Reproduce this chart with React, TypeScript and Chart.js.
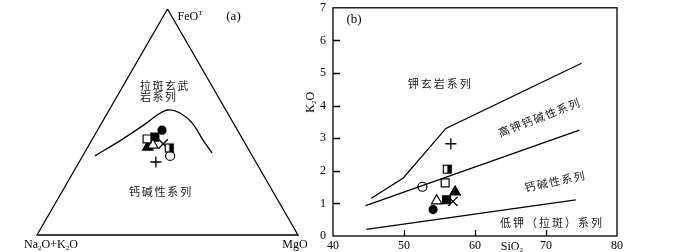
import React, { useEffect, useRef } from 'react';
import { Chart, registerables } from 'chart.js';
Chart.register(...registerables);

const SERIF = '"Liberation Serif", "Times New Roman", serif';
const CJK = '"Noto Sans CJK SC", sans-serif';

// ---------- Panel (b): K2O vs SiO2 ----------
const xTicksB = [40, 50, 60, 70, 80];
const yTicksB = [0, 1, 2, 3, 4, 5, 6, 7];
const xInnerTicksB = [50, 60, 70];
const yInnerTicksB = [1, 2, 3, 4, 5, 6];

// shoshonite / high-K calc-alkaline boundary
const shoSiO2 = [45.4, 49.9, 55.9, 75.0];
const shoK2O = [1.16, 1.78, 3.3, 5.3];
// high-K / calc-alkaline boundary
const hkSiO2 = [44.6, 74.7];
const hkK2O = [0.93, 3.25];
// calc-alkaline / low-K boundary
const lkSiO2 = [44.7, 74.2];
const lkK2O = [0.2, 1.11];

// samples (same order in both panels)
const sampleSiO2 = [54.1, 55.8, 56.1, 54.6, 52.6, 57.2, 56.0, 56.9, 56.6];
const sampleK2O = [0.81, 1.63, 2.05, 1.08, 1.51, 1.35, 1.11, 1.06, 2.83];

// ---------- Panel (a): AFM ternary (percent) ----------
const sampleF = [46.4, 42.5, 38.5, 39.8, 35.0, 38.9, 43.3, 40.3, 32.3];
const sampleA = [28.9, 36.6, 30.1, 35.7, 31.5, 38.1, 33.2, 31.5, 38.3];
const sampleM = [24.7, 20.9, 31.4, 24.5, 33.5, 23.0, 23.5, 28.2, 29.4];

const curveF = [35.0, 42.0, 49.6, 53.1, 55.3, 54.0, 49.6, 42.0, 36.3];
const curveA = [60.3, 46.8, 33.1, 27.4, 22.2, 18.2, 15.8, 15.4, 14.8];
const curveM = [4.7, 11.2, 17.3, 19.5, 22.5, 27.8, 34.6, 42.6, 48.9];

const vertexF = [100, 0, 0, 100];
const vertexA = [0, 100, 0, 0];
const vertexM = [0, 0, 100, 0];

// marker styles per sample
const markerKinds = ['circleFilled', 'rectOpen', 'rectHalf', 'triangleOpen', 'circleOpen', 'triangleFilled', 'rectFilled', 'crossRot', 'cross'];

const H3 = Math.sqrt(3) / 2;
function toXY(F: number, A: number, M: number) {
  const s = F + A + M;
  return { x: (M + F / 2) / s, y: (F / s) * H3 };
}

type Seg = { t: string; sub?: boolean; sup?: boolean };

function drawRich(ctx: CanvasRenderingContext2D, segs: Seg[], x: number, y: number, size: number, align: 'left' | 'center' | 'right') {
  ctx.save();
  ctx.fillStyle = '#000';
  ctx.textBaseline = 'middle';
  ctx.textAlign = 'left';
  const fontOf = (s: Seg) => `${s.sub || s.sup ? Math.round(size * 0.62) : size}px ${SERIF}`;
  const widths = segs.map((s) => {
    ctx.font = fontOf(s);
    return ctx.measureText(s.t).width;
  });
  const total = widths.reduce((a, b) => a + b, 0);
  let cx = align === 'center' ? x - total / 2 : align === 'right' ? x - total : x;
  segs.forEach((s, i) => {
    ctx.font = fontOf(s);
    const dy = s.sub ? size * 0.3 : s.sup ? -size * 0.35 : 0;
    ctx.fillText(s.t, cx, y + dy);
    cx += widths[i];
  });
  ctx.restore();
}

function drawCJK(ctx: CanvasRenderingContext2D, text: string, x: number, y: number, rotDeg: number, size: number, spacing: number, align: 'left' | 'center') {
  ctx.save();
  ctx.translate(x, y);
  ctx.rotate((rotDeg * Math.PI) / 180);
  ctx.font = `${size}px ${CJK}`;
  (ctx as any).letterSpacing = `${spacing}px`;
  ctx.fillStyle = '#1a1a1a';
  ctx.textBaseline = 'middle';
  ctx.textAlign = 'left';
  const w = ctx.measureText(text).width;
  ctx.fillText(text, align === 'center' ? -w / 2 : 0, 0);
  ctx.restore();
}

function makeHalfSquare(): HTMLCanvasElement {
  const c = document.createElement('canvas');
  c.width = 11;
  c.height = 11;
  const g = c.getContext('2d')!;
  g.fillStyle = '#fff';
  g.fillRect(1.5, 1.5, 8, 8);
  g.fillStyle = '#000';
  g.fillRect(5.5, 1.5, 4, 8);
  g.strokeStyle = '#000';
  g.lineWidth = 1.2;
  g.strokeRect(1.5, 1.5, 8, 8);
  return c;
}

function markerProps(kind: string, half: HTMLCanvasElement) {
  const base: any = { borderColor: '#000', borderWidth: 1.2, backgroundColor: '#fff' };
  switch (kind) {
    case 'circleFilled':
      return { ...base, pointStyle: 'circle', pointRadius: 4, backgroundColor: '#000' };
    case 'circleOpen':
      return { ...base, pointStyle: 'circle', pointRadius: 4.5 };
    case 'rectOpen':
      return { ...base, pointStyle: 'rect', pointRadius: 5.6 };
    case 'rectFilled':
      return { ...base, pointStyle: 'rect', pointRadius: 5.6, backgroundColor: '#000' };
    case 'rectHalf':
      return { ...base, pointStyle: half, pointRadius: 5.6 };
    case 'triangleOpen':
      return { ...base, pointStyle: 'triangle', pointRadius: 6 };
    case 'triangleFilled':
      return { ...base, pointStyle: 'triangle', pointRadius: 6, backgroundColor: '#000' };
    case 'crossRot':
      return { ...base, pointStyle: 'crossRot', pointRadius: 6.5, borderWidth: 1.3 };
    default:
      return { ...base, pointStyle: 'cross', pointRadius: 5.5, borderWidth: 1.3 };
  }
}

function lineDataset(data: { x: number; y: number }[], tension = 0) {
  return {
    type: 'scatter' as const,
    data,
    showLine: true,
    borderColor: '#000',
    borderWidth: 1.3,
    pointRadius: 0,
    tension,
    clip: false as any,
  };
}

function AFMPanel() {
  const ref = useRef<HTMLCanvasElement>(null);
  useEffect(() => {
    const half = makeHalfSquare();
    const tri = vertexF.map((f, i) => toXY(f, vertexA[i], vertexM[i]));
    const curve = curveF.map((f, i) => toXY(f, curveA[i], curveM[i]));
    const samples = sampleF.map((f, i) => ({
      type: 'scatter' as const,
      data: [toXY(f, sampleA[i], sampleM[i])],
      clip: false as any,
      ...markerProps(markerKinds[i], half),
    }));
    const labelsPlugin = {
      id: 'afmLabels',
      afterDraw(chart: any) {
        const ctx = chart.ctx as CanvasRenderingContext2D;
        const xs = chart.scales.x;
        const ys = chart.scales.y;
        const px = (v: number) => xs.getPixelForValue(v);
        const py = (v: number) => ys.getPixelForValue(v);
        const top = toXY(100, 0, 0);
        const left = toXY(0, 100, 0);
        const right = toXY(0, 0, 100);
        drawRich(ctx, [{ t: 'FeO' }, { t: 'T', sup: true }], px(top.x) + 10, py(top.y) + 8, 12, 'left');
        drawRich(ctx, [{ t: '(a)' }], px(top.x) + 66, py(top.y) + 8, 13, 'center');
        drawRich(ctx, [{ t: 'Na' }, { t: '2', sub: true }, { t: 'O+K' }, { t: '2', sub: true }, { t: 'O' }], px(left.x) + 14, py(left.y) + 10, 12, 'center');
        drawRich(ctx, [{ t: 'MgO' }], px(right.x) - 3, py(right.y) + 10, 12, 'center');
        drawCJK(ctx, '拉斑玄武', px(0.395), py(0.571), 0, 11, 1.5, 'left');
        drawCJK(ctx, '岩系列', px(0.395), py(0.529), 0, 11, 1.5, 'left');
        drawCJK(ctx, '钙碱性系列', px(0.475), py(0.165), 0, 11, 1.8, 'center');
      },
    };
    const chart = new Chart(ref.current!, {
      type: 'scatter',
      data: {
        datasets: [lineDataset(tri), lineDataset(curve, 0.35), ...samples] as any,
      },
      options: {
        animation: false,
        responsive: false,
        devicePixelRatio: 1,
        events: [],
        layout: { padding: { left: 37, right: 22, top: 9, bottom: 17 } },
        plugins: { legend: { display: false }, tooltip: { enabled: false } },
        scales: {
          x: { type: 'linear', display: false, min: 0, max: 1 },
          y: { type: 'linear', display: false, min: 0, max: H3 },
        },
      },
      plugins: [labelsPlugin],
    });
    return () => chart.destroy();
  }, []);
  return <canvas ref={ref} width={320} height={252} style={{ position: 'absolute', left: 0, top: 0, width: 320, height: 252 }} />;
}

function K2OPanel() {
  const ref = useRef<HTMLCanvasElement>(null);
  useEffect(() => {
    const half = makeHalfSquare();
    const toPts = (xs: number[], ys: number[]) => xs.map((x, i) => ({ x, y: ys[i] }));
    const samples = sampleSiO2.map((s, i) => ({
      type: 'scatter' as const,
      data: [{ x: s, y: sampleK2O[i] }],
      clip: false as any,
      ...markerProps(markerKinds[i], half),
    }));
    const framePlugin = {
      id: 'k2oFrame',
      afterDraw(chart: any) {
        const ctx = chart.ctx as CanvasRenderingContext2D;
        const xs = chart.scales.x;
        const ys = chart.scales.y;
        const { left, right, top, bottom } = chart.chartArea;
        ctx.save();
        ctx.strokeStyle = '#000';
        ctx.lineWidth = 1.3;
        ctx.strokeRect(left, top, right - left, bottom - top);
        ctx.beginPath();
        yInnerTicksB.forEach((v) => {
          const y = Math.round(ys.getPixelForValue(v)) + 0.5;
          ctx.moveTo(left, y);
          ctx.lineTo(left + 7, y);
        });
        xInnerTicksB.forEach((v) => {
          const x = Math.round(xs.getPixelForValue(v)) + 0.5;
          ctx.moveTo(x, bottom);
          ctx.lineTo(x, bottom - 6);
        });
        ctx.stroke();
        ctx.fillStyle = '#000';
        ctx.font = `12px ${SERIF}`;
        ctx.textAlign = 'right';
        ctx.textBaseline = 'middle';
        yTicksB.forEach((v) => {
          ctx.fillText(String(v), left - 7, Math.max(ys.getPixelForValue(v), 5));
        });
        ctx.textAlign = 'center';
        ctx.textBaseline = 'top';
        xTicksB.forEach((v) => {
          ctx.fillText(String(v), xs.getPixelForValue(v), bottom + 4);
        });
        ctx.restore();
        // axis titles
        ctx.save();
        ctx.translate(11, ys.getPixelForValue(4.1));
        ctx.rotate(-Math.PI / 2);
        drawRich(ctx, [{ t: 'K' }, { t: '2', sub: true }, { t: 'O' }], 0, 0, 12, 'center');
        ctx.restore();
        drawRich(ctx, [{ t: 'SiO' }, { t: '2', sub: true }], xs.getPixelForValue(65.2), bottom + 11, 12, 'center');
        drawRich(ctx, [{ t: '(b)' }], xs.getPixelForValue(41.9), ys.getPixelForValue(6.64), 13, 'left');
        drawCJK(ctx, '钾玄岩系列', xs.getPixelForValue(55.1), ys.getPixelForValue(4.68), 0, 11, 2, 'center');
        drawCJK(ctx, '高钾钙碱性系列', xs.getPixelForValue(69.1), ys.getPixelForValue(3.64), -21, 11, 1.5, 'center');
        drawCJK(ctx, '钙碱性系列', xs.getPixelForValue(71.3), ys.getPixelForValue(1.68), -12, 11, 1.5, 'center');
        drawCJK(ctx, '低钾（拉斑）系列', xs.getPixelForValue(70.85), ys.getPixelForValue(0.39), 0, 11, 2, 'center');
      },
    };
    const chart = new Chart(ref.current!, {
      type: 'scatter',
      data: {
        datasets: [
          lineDataset(toPts(shoSiO2, shoK2O)),
          lineDataset(toPts(hkSiO2, hkK2O)),
          lineDataset(toPts(lkSiO2, lkK2O)),
          ...samples,
        ] as any,
      },
      options: {
        animation: false,
        responsive: false,
        devicePixelRatio: 1,
        events: [],
        layout: { padding: { left: 33, right: 83, top: 3, bottom: 16 } },
        plugins: { legend: { display: false }, tooltip: { enabled: false } },
        scales: {
          x: { type: 'linear', display: false, min: 40, max: 80 },
          y: { type: 'linear', display: false, min: 0, max: 7 },
        },
      },
      plugins: [framePlugin],
    });
    return () => chart.destroy();
  }, []);
  return <canvas ref={ref} width={400} height={252} style={{ position: 'absolute', left: 300, top: 0, width: 400, height: 252 }} />;
}

export default function App() {
  return (
    <div style={{ position: 'fixed', left: 0, top: 0, width: 700, height: 252, background: '#fff', overflow: 'hidden' }}>
      <AFMPanel />
      <K2OPanel />
    </div>
  );
}
